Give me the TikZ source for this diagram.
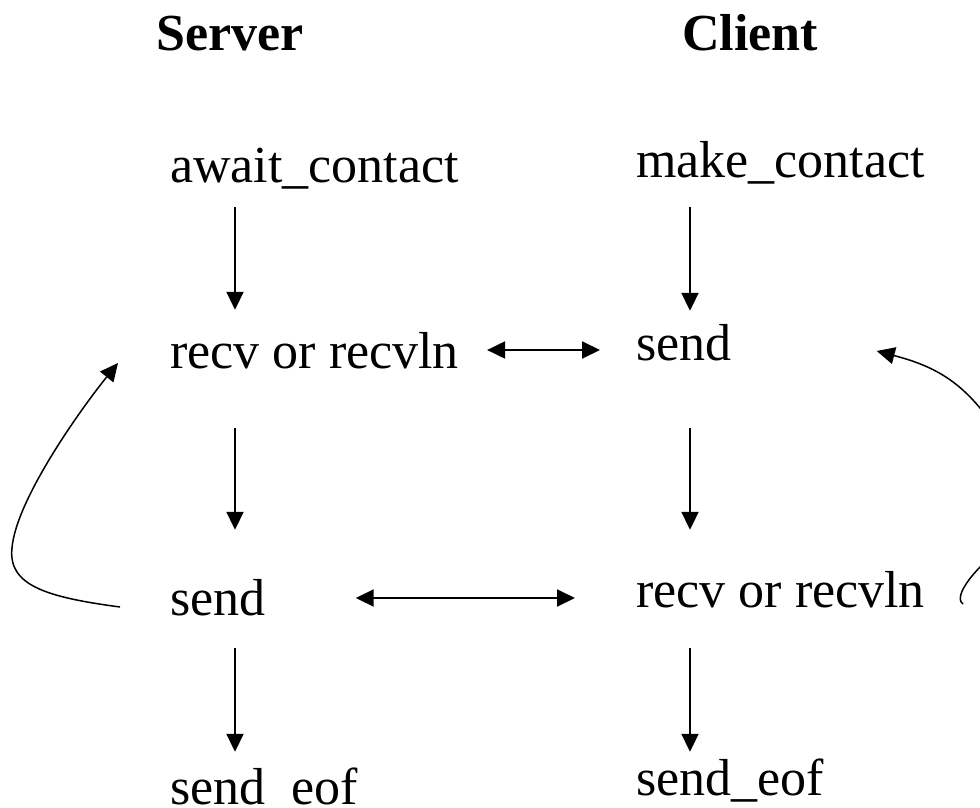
\documentclass[tikz,border=0pt]{standalone}
\usepackage{fontspec}
\setmainfont{Liberation Serif}
\usepackage{tikz}
\usetikzlibrary{arrows.meta}

\begin{document}
\begin{tikzpicture}[x=1pt,y=-1pt,>={Triangle[length=18pt,width=17pt]},
 lbl/.style={anchor=base west,inner sep=0pt,text height=36pt,text depth=12pt,
 font=\fontsize{52}{60}\selectfont},
 hdr/.style={anchor=base,inner sep=0pt,font=\fontsize{52}{60}\selectfont\bfseries},
 link/.style={line width=2pt}]
\useasboundingbox (0,0) rectangle (980,808);
% column headings
\node[hdr] (server) at (230,51) {Server};
\node[hdr] (client) at (750,51) {Client};
% server side
\node[lbl] (await) at (170,182) {await\_contact};
\node[lbl] (srecv) at (170,368) {recv or recvln};
\node[lbl] (ssend) at (170,615) {send};
\node[lbl] (seof)  at (170,804) {send\_eof};
% client side
\node[lbl] (make)  at (636,177) {make\_contact};
\node[lbl] (csend) at (636,360) {send};
\node[lbl] (crecv) at (636,607) {recv or recvln};
\node[lbl] (ceof)  at (636,795) {send\_eof};
\coordinate (colL) at (235,0);
\coordinate (colR) at (690,0);
% downward steps
\draw[link,->,shorten <=13pt,shorten >=22pt] (colL |- await.south) -- (colL |- srecv.north);
\draw[link,->,shorten <=48pt,shorten >=49pt] (colL |- srecv.south) -- (colL |- ssend.north);
\draw[link,->,shorten <=21pt,shorten >=16pt] (colL |- ssend.south) -- (colL |- seof.north);
\draw[link,->,shorten <=18pt,shorten >=13pt] (colR |- make.south) -- (colR |- csend.north);
\draw[link,->,shorten <=56pt,shorten >=41pt] (colR |- csend.south) -- (colR |- crecv.north);
\draw[link,->,shorten <=29pt,shorten >=7pt] (colR |- crecv.south) -- (colR |- ceof.north);
% exchanges
\draw[link,<->] ([shift={(28,-6)}]srecv.east) -- ([shift={(-36,2)}]csend.west);
\draw[link,<->] ([shift={(90,-5)}]ssend.east) -- ([shift={(-61,3)}]crecv.west);
% loops
\draw[line width=1.5pt,->] ([shift={(-50,4)}]ssend.west) .. controls (45,597) and (8,585) .. (12,548)
 .. controls (16,500) and (80,410) .. ([shift={(-52,7)}]srecv.west);
\draw[line width=1.5pt,->] ([shift={(38,9)}]crecv.east) .. controls (956,600) and (962,585) .. (982,565)
 .. controls (1010,530) and (1010,440) .. (980,408)
 .. controls (955,378) and (930,365) .. ([shift={(145,3)}]csend.east);
\end{tikzpicture}
\end{document}
